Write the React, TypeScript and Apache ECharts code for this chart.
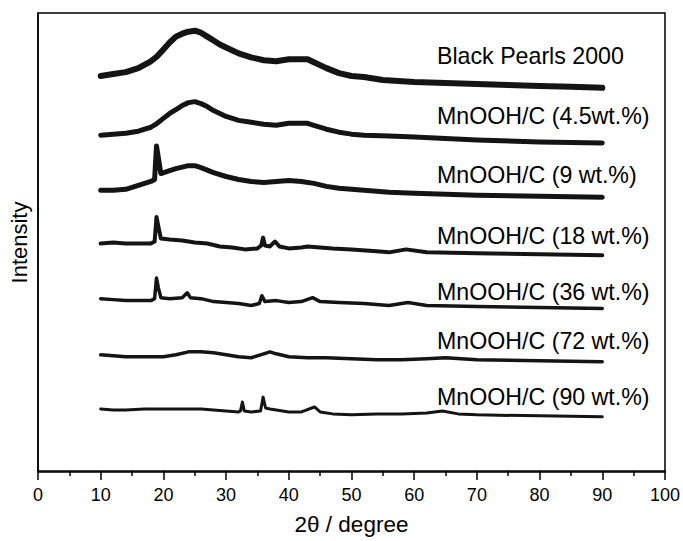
import React, { useEffect, useRef } from "react";
import * as echarts from "echarts";

// Sample names (labels drawn beside each pattern)
const sampleNames = [
  "Black Pearls 2000",
  "MnOOH/C (4.5wt.%)",
  "MnOOH/C (9 wt.%)",
  "MnOOH/C (18 wt.%)",
  "MnOOH/C (36 wt.%)",
  "MnOOH/C (72 wt.%)",
  "MnOOH/C (90 wt.%)",
];

// [2θ, intensity (a.u., offset for stacking)]
const bp2000 = [
  [10, 401], [12, 403], [14, 405], [16, 409], [18, 416], [19, 421], [20, 428], [21, 435],
  [22, 441], [23, 444], [24, 446], [25, 447], [26, 445], [27, 441], [28, 437], [29, 433],
  [30, 430], [32, 424], [34, 420], [36, 417], [38, 416], [40, 418], [42, 418], [43, 418],
  [44, 415], [46, 409], [48, 404], [50, 401], [52, 400], [55, 397], [60, 395], [65, 394],
  [70, 393], [75, 392], [80, 391], [85, 390], [90, 389],
];
const mn45 = [
  [10, 341], [12, 342], [14, 343], [16, 345], [18, 349], [19, 353], [20, 358], [21, 363],
  [22, 367], [23, 371], [24, 374], [25, 375], [26, 373], [27, 370], [28, 366], [29, 363],
  [30, 360], [32, 356], [34, 354], [36, 352], [38, 351], [40, 353], [42, 353], [43, 353],
  [44, 351], [46, 347], [48, 344], [50, 342], [52, 341], [56, 340], [60, 339], [70, 336],
  [80, 334], [90, 333],
];
const mn9 = [
  [10, 285], [12, 285], [14, 286], [16, 290], [18, 294], [18.6, 296], [18.9, 330], [19.2, 318],
  [19.6, 302], [21, 305], [22, 307], [24, 310], [25, 310], [26, 308], [28, 303], [30, 299],
  [32, 296], [34, 294], [36, 293], [38, 294], [40, 295], [42, 294], [44, 292], [46, 289],
  [48, 287], [50, 286], [52, 285], [56, 283], [60, 282], [70, 280], [80, 279], [90, 278],
];
const mn18 = [
  [10, 231], [12, 232], [14, 231], [16, 231], [18, 231], [18.6, 233], [18.9, 258], [19.2, 248],
  [19.6, 236], [21, 235], [23, 234], [25, 232], [27, 231], [29, 228], [31, 227], [33, 225],
  [35, 226], [35.6, 229], [35.9, 237], [36.2, 229], [37, 228], [37.8, 233], [38.5, 228], [40, 226],
  [42, 227], [43, 228], [45, 227], [47, 226], [50, 225], [54, 223], [56, 222], [58.7, 225],
  [62, 222], [70, 221], [80, 220], [90, 219],
];
const mn36 = [
  [10, 175], [12, 174], [14, 173], [16, 173], [18, 173], [18.6, 175], [18.9, 196], [19.2, 186],
  [19.6, 176], [21, 175], [23, 176], [23.8, 181], [24.3, 176], [26, 175], [28, 172], [30, 171],
  [32, 170], [34, 168], [35.3, 170], [35.7, 178], [36.2, 172], [38, 173], [40, 171], [42, 172],
  [43.8, 176], [45, 172], [48, 171], [52, 170], [56, 168], [59, 171], [62, 168], [70, 167],
  [80, 166], [90, 165],
];
const mn72 = [
  [10, 118], [12, 117], [14, 116], [17, 116], [20, 116], [22, 118], [24, 121], [26, 121],
  [28, 120], [30, 118], [32, 116], [34, 115], [36, 119], [37, 121], [38, 119], [40, 116],
  [43, 115], [46, 115], [50, 114], [54, 113], [58, 113], [62, 114], [65, 115], [70, 113],
  [80, 112], [90, 111],
];
const mn90 = [
  [10, 63], [12, 62], [14, 62], [17, 63], [20, 63], [23, 63], [26, 63], [28, 62],
  [30, 61], [32, 60], [32.3, 61], [32.6, 70], [32.9, 61], [34, 60], [35.5, 61], [35.9, 75],
  [36.3, 64], [37, 63], [40, 60], [42, 60], [44.1, 65], [45, 60], [47, 58], [50, 57],
  [54, 58], [58, 58], [62, 59], [64.5, 61], [67, 58], [70, 57], [80, 56], [90, 55],
];

const allSeries = [bp2000, mn45, mn9, mn18, mn36, mn72, mn90];

// x-axis tick values
const xMin = 0;
const xMax = 100;
const xStep = 10;

const FONT = "'Liberation Sans', Arial, Helvetica, sans-serif";

export default function App() {
  const ref = useRef<HTMLDivElement>(null);

  useEffect(() => {
    if (!ref.current) return;
    const chart = echarts.init(ref.current, undefined, { renderer: "svg" });

    const widths = [6, 5, 5, 4, 3.5, 3.5, 3];
    const labelY = [55.5, 116, 175, 236.3, 291.7, 341, 396.7];

    chart.setOption({
      animation: false,
      backgroundColor: "#fff",
      grid: {
        left: 37,
        right: 16,
        top: 13,
        bottom: 62,
        show: true,
        borderColor: "#000",
        borderWidth: 1.5,
        backgroundColor: "transparent",
      },
      xAxis: {
        type: "value",
        min: xMin,
        max: xMax,
        interval: xStep,
        name: "2θ / degree",
        nameLocation: "middle",
        nameGap: 41,
        nameTextStyle: { fontFamily: FONT, fontSize: 22.5, color: "#000" },
        axisLine: { show: true, lineStyle: { color: "#000", width: 1.5 } },
        axisTick: { show: true, inside: false, length: 9, lineStyle: { color: "#000", width: 1.5 } },
        minorTick: { show: true, splitNumber: 2, length: 5, lineStyle: { color: "#000", width: 1.5 } },
        axisLabel: { fontFamily: FONT, fontSize: 18, color: "#000", margin: 14 },
        splitLine: { show: false },
      },
      yAxis: {
        type: "value",
        min: -1,
        max: 465,
        name: "Intensity",
        nameLocation: "middle",
        nameGap: 8,
        nameTextStyle: { fontFamily: FONT, fontSize: 22, color: "#000" },
        axisLine: { show: true, lineStyle: { color: "#000", width: 1.5 } },
        axisTick: { show: false },
        axisLabel: { show: false },
        splitLine: { show: false },
      },
      series: allSeries.map((d, i) => ({
        type: "line",
        name: sampleNames[i],
        data: d,
        showSymbol: false,
        symbol: "none",
        smooth: false,
        lineStyle: { color: "#000", width: widths[i], join: "round", cap: "round", opacity: 0.92 },
        emphasis: { disabled: true },
      })),
      graphic: sampleNames.map((name, i) => ({
        type: "text",
        x: 437,
        y: labelY[i],
        style: {
          text: name,
          fill: "#000",
          font: `23.2px ${FONT}`,
          fontSize: 23.2,
          fontFamily: FONT,
          textAlign: "left",
          textVerticalAlign: "middle",
          align: "left",
          verticalAlign: "middle",
        },
      })),
    });

    return () => chart.dispose();
  }, []);

  return (
    <div
      ref={ref}
      style={{ position: "absolute", left: 0, top: 0, width: 683, height: 541, background: "#fff" }}
    />
  );
}
